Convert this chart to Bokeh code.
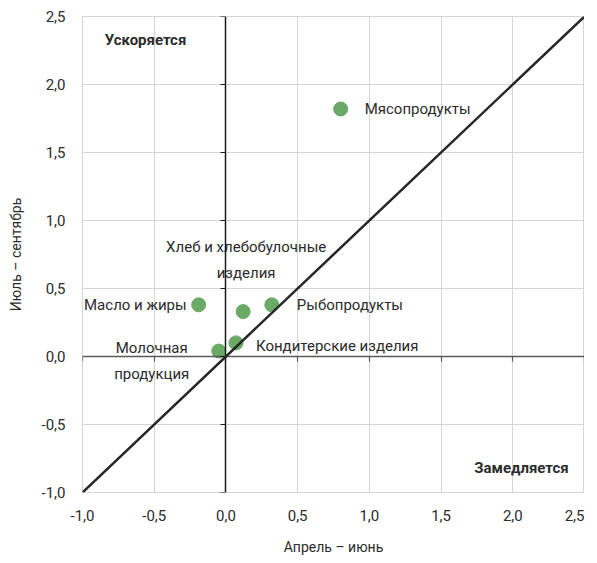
from bokeh.plotting import figure
from bokeh.models import (Range1d, FixedTicker, CustomJSTickFormatter, LinearAxis,
                          ColumnDataSource, Slope, Label)
from bokeh.embed import file_html
from bokeh.resources import INLINE
from bokeh.core.properties import value

# ---- data ----
categories = ["Мясопродукты", "Масло и жиры", "Хлеб и хлебобулочные\nизделия",
              "Рыбопродукты", "Кондитерские изделия", "Молочная\nпродукция"]
apr_jun = [0.80, -0.19, 0.12, 0.32, 0.07, -0.05]
jul_sep = [1.82, 0.38, 0.33, 0.38, 0.10, 0.04]
tick_values = [-1.0, -0.5, 0.0, 0.5, 1.0, 1.5, 2.0, 2.5]
x_title = "Апрель – июнь"
y_title = "Июль – сентябрь"
corner_texts = ["Ускоряется", "Замедляется"]

# label layout (offsets in pixels, alignment)
label_dx = [24, -12, 3, 25, 20, -67]
label_dy = [0, 0, -52, 0, 3, 10]
label_align = ["left", "right", "center", "left", "left", "center"]

FONT = "Roboto"
TXT = "#2b2b2b"
GREEN = "#6aa966"

p = figure(frame_width=502, frame_height=476,
           min_border_left=82, min_border_right=0, min_border_top=16, min_border_bottom=60,
           x_range=Range1d(tick_values[0], tick_values[-1]),
           y_range=Range1d(tick_values[0], tick_values[-1]),
           output_backend="svg", toolbar_location=None,
           background_fill_color="white", border_fill_color="white")
p.outline_line_color = "#d4d4d4"
p.outline_line_width = 1

fmt = CustomJSTickFormatter(code="return tick.toFixed(1).replace('.', ',');")
for ax in (p.xaxis[0], p.yaxis[0]):
    ax.ticker = FixedTicker(ticks=tick_values)
    ax.formatter = fmt
    ax.axis_line_color = None
    ax.major_tick_line_color = None
    ax.minor_tick_line_color = None
    ax.major_tick_out = 0
    ax.major_tick_in = 0
    ax.major_label_text_font = FONT
    ax.major_label_text_font_size = "15px"
    ax.major_label_text_color = TXT
    ax.axis_label_text_font = FONT
    ax.axis_label_text_font_size = "14px"
    ax.axis_label_text_font_style = "normal"
    ax.axis_label_text_color = TXT
p.xaxis[0].axis_label = x_title
p.yaxis[0].axis_label = y_title
p.xaxis[0].major_label_standoff = 17
p.yaxis[0].major_label_standoff = 17
p.xaxis[0].axis_label_standoff = 15
p.yaxis[0].axis_label_standoff = 15

p.xgrid.ticker = FixedTicker(ticks=tick_values)
p.ygrid.ticker = FixedTicker(ticks=tick_values)
p.xgrid.grid_line_color = "#d4d4d4"
p.ygrid.grid_line_color = "#d4d4d4"

# zero axes with ticks
xa0 = LinearAxis(fixed_location=0, ticker=FixedTicker(ticks=tick_values),
                 major_label_text_alpha=0, major_label_text_font_size="1px",
                 axis_line_color="#595959", axis_line_width=1.5,
                 major_tick_line_color="#595959", major_tick_line_width=1.2,
                 major_tick_out=5, major_tick_in=0, minor_tick_line_color=None)
ya0 = LinearAxis(fixed_location=0, ticker=FixedTicker(ticks=tick_values),
                 major_label_text_alpha=0, major_label_text_font_size="1px",
                 axis_line_color="#1a1a1a", axis_line_width=1.5,
                 major_tick_line_color="#1a1a1a", major_tick_line_width=1.2,
                 major_tick_out=5, major_tick_in=0, minor_tick_line_color=None)
p.add_layout(xa0, "below")
p.add_layout(ya0, "left")

# diagonal y = x
p.add_layout(Slope(gradient=1, y_intercept=0, line_color="#262626", line_width=2.5))

src = ColumnDataSource(dict(x=apr_jun, y=jul_sep, name=categories,
                            dx=label_dx, dy=label_dy, align=label_align))
p.scatter("x", "y", source=src, size=14, fill_color=GREEN, line_color=GREEN)
p.text("x", "y", text="name", source=src, x_offset="dx", y_offset="dy",
       text_align="align", text_baseline="middle",
       text_font=value(FONT), text_font_size="15px", text_color=TXT,
       text_line_height=1.45)

p.add_layout(Label(x=-0.845, y=2.33, text=corner_texts[0], text_align="left",
                   text_baseline="middle", text_font=FONT, text_font_size="15px",
                   text_font_style="bold", text_color=TXT))
p.add_layout(Label(x=2.39, y=-0.82, text=corner_texts[1], text_align="right",
                   text_baseline="middle", text_font=FONT, text_font_size="15px",
                   text_font_style="bold", text_color=TXT))

open("out.html", "w").write(file_html(p, INLINE))
